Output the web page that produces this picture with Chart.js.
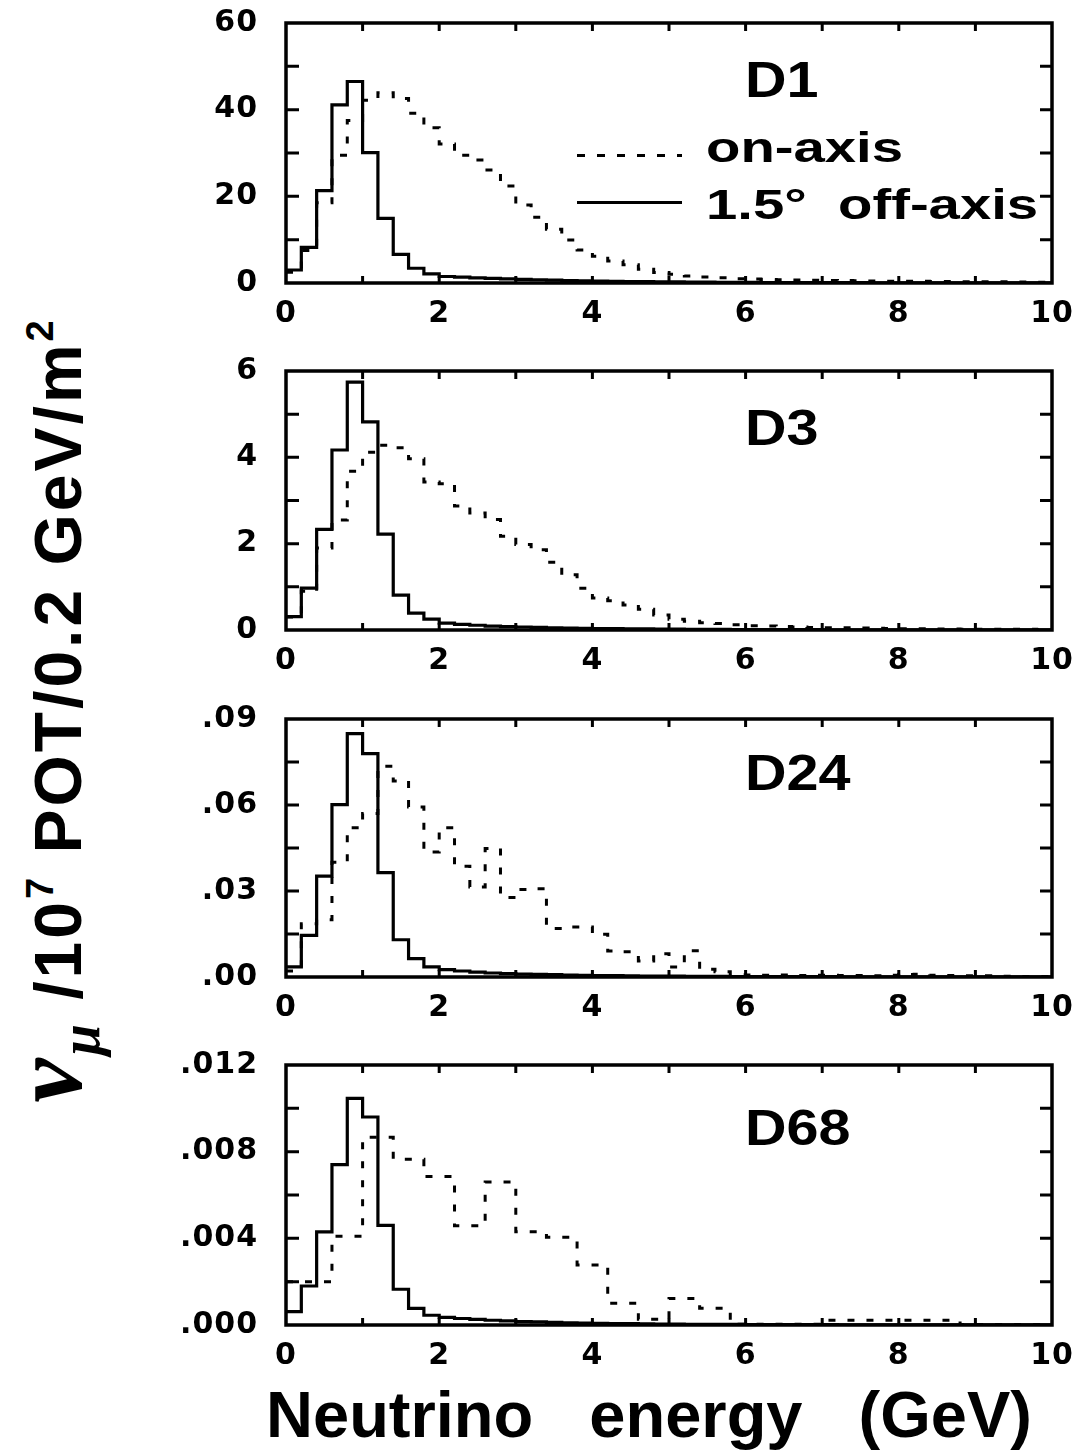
<!DOCTYPE html>
<html>
<head>
<meta charset="utf-8">
<script src="https://cdn.jsdelivr.net/npm/chart.js@4.4.0/dist/chart.umd.min.js"></script>
<style>
  body { margin: 0; background: #fff; width: 1078px; height: 1456px; position: relative; overflow: hidden;
         font-family: "Liberation Sans", Arial, sans-serif; font-weight: bold; color: #000; }
  .panel { position: absolute; left: 150px; }
  .tag { position: absolute; left: 745px; font-size: 50px; line-height: 50px; transform: scaleX(1.15); transform-origin: 0 0; }
  .leg { position: absolute; left: 706px; font-size: 42px; line-height: 42px; white-space: pre; transform: scaleX(1.34); transform-origin: 0 0; }
  .sample { position: absolute; left: 577px; width: 105px; height: 3px; }
  .dashed { background: repeating-linear-gradient(to right, #000 0 8px, transparent 8px 20px); }
  .solid { background: #000; }
  #ytitle { position: absolute; left: 60px; top: 710px; transform: translate(-50%, -50%) rotate(-90deg);
            white-space: nowrap; font-size: 66px; line-height: 66px; letter-spacing: 3px; }
  #ytitle .nu { font-family: "Liberation Serif", serif; font-style: italic; font-size: 100px; }
  #ytitle sub { font-family: "Liberation Serif", serif; font-style: italic; font-size: 56px; vertical-align: -18px; }
  #ytitle sup { font-size: 38px; vertical-align: 28px; }
  #xtitle { position: absolute; left: 649px; top: 1382px; transform: translateX(-50%); white-space: nowrap;
            font-size: 65px; line-height: 65px; word-spacing: 38px; }
</style>
</head>
<body>
<div class="panel" style="top:-17px"><canvas id="c1" width="928" height="350"></canvas></div>
<div class="panel" style="top:331px"><canvas id="c2" width="928" height="349"></canvas></div>
<div class="panel" style="top:679px"><canvas id="c3" width="928" height="348"></canvas></div>
<div class="panel" style="top:1025px"><canvas id="c4" width="928" height="350"></canvas></div>

<div class="tag" style="top:55px">D1</div>
<div class="tag" style="top:403px">D3</div>
<div class="tag" style="top:748px">D24</div>
<div class="tag" style="top:1103px">D68</div>

<div class="sample dashed" style="top:154px"></div>
<div class="sample solid" style="top:201px"></div>
<div class="leg" style="top:127px">on-axis</div>
<div class="leg" style="top:184px">1.5°  off-axis</div>

<div id="ytitle"><span class="nu">ν</span><sub>μ</sub> /10<sup>7</sup> POT/0.2 GeV/m<sup>2</sup></div>
<div id="xtitle">Neutrino energy (GeV)</div>

<script>
// energy binning (GeV)
var binWidth = 0.2;
var xTicks = [0, 2, 4, 6, 8, 10];
var xTickLabels = ['0', '2', '4', '6', '8', '10'];

// D1
var d1OnAxis = [2.5, 7.5, 18.5, 29.5, 37.5, 42.2, 43.9, 42.6, 39.2, 35.8,
  32.1, 29.5, 28.4, 26.1, 22.4, 18.0, 15.2, 12.4, 9.9, 7.6,
  6.2, 5.1, 4.2, 3.2, 2.4, 2.0, 1.6, 1.4, 1.2, 1.0,
  0.9, 0.8, 0.75, 0.7, 0.65, 0.6, 0.55, 0.5, 0.45, 0.42,
  0.4, 0.38, 0.35, 0.33, 0.3, 0.28, 0.26, 0.24, 0.22, 0.2];
var d1OffAxis = [3.0, 8.2, 21.3, 41.1, 46.5, 30.1, 14.9, 6.6, 3.4, 2.1,
  1.5, 1.35, 1.2, 1.05, 0.95, 0.85, 0.75, 0.65, 0.58, 0.5,
  0.45, 0.4, 0.35, 0.3, 0.27, 0.24, 0.21, 0.19, 0.17, 0.15,
  0.13, 0.12, 0.11, 0.1, 0.09, 0.08, 0.07, 0.07, 0.06, 0.06,
  0.05, 0.05, 0.04, 0.04, 0.04, 0.03, 0.03, 0.03, 0.03, 0.02];
var d1Ticks = [0, 20, 40, 60];
var d1TickLabels = ['0', '20', '40', '60'];

// D3
var d3OnAxis = [0.3, 0.9, 1.9, 2.55, 3.68, 4.12, 4.28, 4.22, 3.97, 3.43,
  3.39, 2.87, 2.71, 2.56, 2.17, 1.98, 1.86, 1.57, 1.28, 0.97,
  0.74, 0.68, 0.58, 0.48, 0.35, 0.25, 0.2, 0.17, 0.15, 0.12,
  0.1, 0.09, 0.08, 0.07, 0.06, 0.055, 0.05, 0.045, 0.04, 0.035,
  0.03, 0.03, 0.025, 0.025, 0.02, 0.02, 0.02, 0.015, 0.015, 0.01];
var d3OffAxis = [0.31, 0.97, 2.33, 4.17, 5.74, 4.82, 2.22, 0.81, 0.39, 0.25,
  0.16, 0.13, 0.11, 0.09, 0.08, 0.07, 0.06, 0.05, 0.045, 0.04,
  0.035, 0.03, 0.027, 0.024, 0.021, 0.019, 0.017, 0.015, 0.013, 0.012,
  0.011, 0.01, 0.009, 0.008, 0.007, 0.006, 0.006, 0.005, 0.005, 0.004,
  0.004, 0.004, 0.003, 0.003, 0.003, 0.003, 0.002, 0.002, 0.002, 0.002];
var d3Ticks = [0, 2, 4, 6];
var d3TickLabels = ['0', '2', '4', '6'];

// D24
var d24OnAxis = [0.0021, 0.0186, 0.020, 0.040, 0.0521, 0.0570, 0.0735, 0.0684, 0.0593, 0.0436,
  0.0521, 0.0386, 0.0314, 0.0448, 0.0277, 0.0305, 0.0308, 0.0169, 0.0174, 0.0174,
  0.0149, 0.0091, 0.0088, 0.0056, 0.0081, 0.0035, 0.0092, 0.0027, 0.0018, 0.0008,
  0.0007, 0.0006, 0.0007, 0.0005, 0.0006, 0.0006, 0.0005, 0.0005, 0.0004, 0.0006,
  0.0009, 0.0010, 0.0006, 0.0005, 0.0004, 0.0004, 0.0003, 0.0003, 0.0002, 0.0002];
var d24OffAxis = [0.0035, 0.0145, 0.0352, 0.0601, 0.0849, 0.0779, 0.0364, 0.0130, 0.0064, 0.0035,
  0.0026, 0.0021, 0.0017, 0.0014, 0.0012, 0.0010, 0.0009, 0.0008, 0.0007, 0.0006,
  0.0005, 0.00045, 0.0004, 0.00035, 0.0003, 0.00028, 0.00025, 0.00022, 0.0002, 0.00018,
  0.00016, 0.00015, 0.00013, 0.00012, 0.00011, 0.0001, 0.00009, 0.00008, 0.00008, 0.00007,
  0.00006, 0.00006, 0.00005, 0.00005, 0.00005, 0.00004, 0.00004, 0.00004, 0.00003, 0.00003];
var d24Ticks = [0, 0.03, 0.06, 0.09];
var d24TickLabels = ['.00', '.03', '.06', '.09'];

// D68
var d68OnAxis = [0.0020, 0.0020, 0.0020, 0.0041, 0.0041, 0.00866, 0.00866, 0.00765, 0.00765, 0.00685,
  0.00685, 0.00458, 0.00458, 0.0066, 0.0066, 0.0043, 0.0043, 0.00405, 0.00405, 0.00277,
  0.00277, 0.0010, 0.0010, 0.00026, 0.00026, 0.00122, 0.00122, 0.00077, 0.00077, 0.00003,
  0.00003, 0.00003, 0.00003, 0.00003, 0.00003, 0.00022, 0.00022, 0.00022, 0.00022, 0.00022,
  0.00022, 0.00022, 0.00022, 0.00022, 0.00002, 0.00002, 0.00002, 0.00002, 0.00002, 0.00002];
var d68OffAxis = [0.00062, 0.0018, 0.0043, 0.0074, 0.01046, 0.0096, 0.0046, 0.00165, 0.00077, 0.00045,
  0.00035, 0.0003, 0.00026, 0.00022, 0.00019, 0.00016, 0.00014, 0.00012, 0.0001, 0.00009,
  0.00008, 0.00007, 0.00006, 0.00005, 0.000045, 0.00004, 0.000035, 0.00003, 0.000028, 0.000025,
  0.000022, 0.00002, 0.000018, 0.000016, 0.000015, 0.000013, 0.000012, 0.000011, 0.00001, 0.00001,
  0.000009, 0.000008, 0.000008, 0.000007, 0.000007, 0.000006, 0.000006, 0.000005, 0.000005, 0.000004];
var d68Ticks = [0, 0.004, 0.008, 0.012];
var d68TickLabels = ['.000', '.004', '.008', '.012'];

var tickFont = { family: 'DejaVu Sans', size: 30, weight: 'bold' };

// turn bin contents into step points at the bin edges
function toSteps(values) {
  var pts = values.map(function (v, i) { return { x: i * binWidth, y: v }; });
  pts.push({ x: values.length * binWidth, y: values[values.length - 1] });
  return pts;
}

// box frame with inward ticks on all four sides
var frameTicks = {
  id: 'frameTicks',
  beforeDraw: function (chart) {
    chart.ctx.letterSpacing = '1px';
  },
  afterDatasetsDraw: function (chart) {
    var ctx = chart.ctx, a = chart.chartArea;
    var xs = chart.scales.x, ys = chart.scales.y;
    var yt = chart.options.yTickValues;
    var half = (yt[1] - yt[0]) / 2;
    ctx.save();
    ctx.strokeStyle = '#000';
    ctx.lineWidth = 3.5;
    ctx.strokeRect(a.left, a.top, a.right - a.left, a.bottom - a.top);
    ctx.lineWidth = 3;
    ctx.beginPath();
    for (var e = 1; e < 10; e++) {
      var px = xs.getPixelForValue(e);
      ctx.moveTo(px, a.bottom); ctx.lineTo(px, a.bottom - 7);
      ctx.moveTo(px, a.top); ctx.lineTo(px, a.top + 8);
    }
    var n = Math.round((yt[yt.length - 1] - yt[0]) / half);
    for (var k = 1; k < n; k++) {
      var py = ys.getPixelForValue(yt[0] + k * half);
      ctx.moveTo(a.left, py); ctx.lineTo(a.left + 13, py);
      ctx.moveTo(a.right, py); ctx.lineTo(a.right - 12, py);
    }
    ctx.stroke();
    ctx.restore();
  }
};

function makePanel(id, onAxis, offAxis, yTicks, yTickLabels) {
  var ctx = document.getElementById(id);
  return new Chart(ctx, {
    type: 'line',
    data: {
      datasets: [{
        label: 'on-axis',
        data: toSteps(onAxis),
        stepped: 'before',
        borderColor: '#000',
        borderWidth: 3,
        borderDash: [7, 12],
        pointRadius: 0,
        fill: false
      }, {
        label: '1.5° off-axis',
        data: toSteps(offAxis),
        stepped: 'before',
        borderColor: '#000',
        borderWidth: 3.2,
        pointRadius: 0,
        fill: false
      }]
    },
    options: {
      responsive: false,
      animation: false,
      yTickValues: yTicks,
      layout: { padding: { top: 40, right: 26, left: 0, bottom: 0 } },
      plugins: { legend: { display: false }, tooltip: { enabled: false } },
      scales: {
        x: {
          type: 'linear', min: 0, max: 10,
          grid: { display: false }, border: { display: false },
          afterBuildTicks: function (s) { s.ticks = xTicks.map(function (v) { return { value: v }; }); },
          afterFit: function (s) { s.height = 50; },
          ticks: {
            autoSkip: false, maxRotation: 0, padding: 5, color: '#000', font: tickFont,
            callback: function (v, i) { return xTickLabels[i]; }
          }
        },
        y: {
          type: 'linear', min: yTicks[0], max: yTicks[yTicks.length - 1],
          grid: { display: false }, border: { display: false },
          afterBuildTicks: function (s) { s.ticks = yTicks.map(function (v) { return { value: v }; }); },
          afterFit: function (s) { s.width = 136; },
          ticks: {
            autoSkip: false, padding: 20, color: '#000', font: tickFont,
            callback: function (v, i) { return yTickLabels[i]; }
          }
        }
      }
    },
    plugins: [frameTicks]
  });
}

makePanel('c1', d1OnAxis, d1OffAxis, d1Ticks, d1TickLabels);
makePanel('c2', d3OnAxis, d3OffAxis, d3Ticks, d3TickLabels);
makePanel('c3', d24OnAxis, d24OffAxis, d24Ticks, d24TickLabels);
makePanel('c4', d68OnAxis, d68OffAxis, d68Ticks, d68TickLabels);
</script>
</body>
</html>
